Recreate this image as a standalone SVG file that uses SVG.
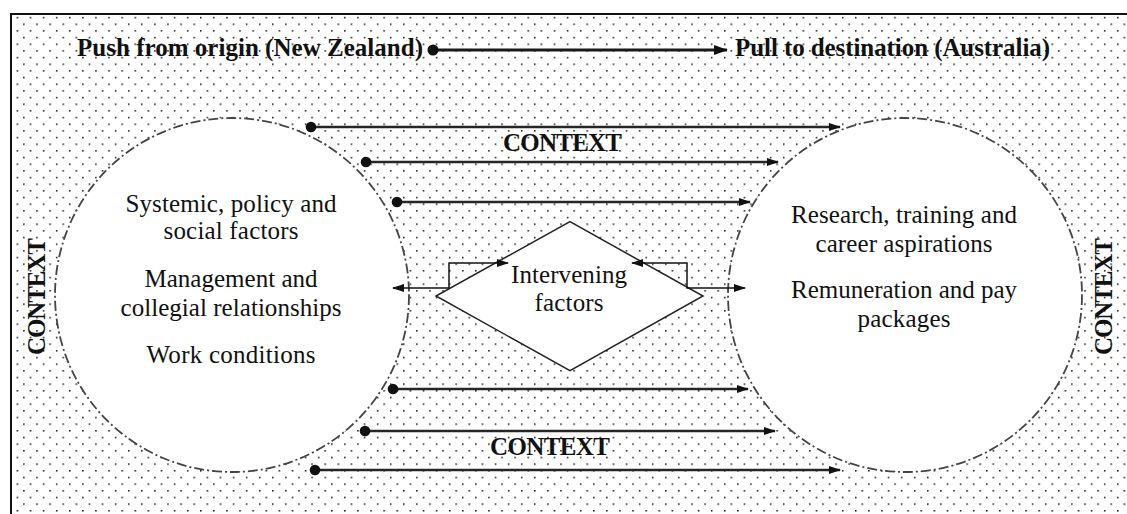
<svg xmlns="http://www.w3.org/2000/svg" width="1127" height="514" viewBox="0 0 1127 514">
<defs>
<pattern id="dots" patternUnits="userSpaceOnUse" x="3.5" y="3.5" width="13.1" height="13.33">
<rect x="0" y="0" width="1.5" height="1.5" fill="#111"/>
<rect x="6.55" y="6.67" width="1.5" height="1.5" fill="#111"/>
</pattern>
<marker id="ah" markerUnits="userSpaceOnUse" markerWidth="12" markerHeight="10" refX="11" refY="5" orient="auto-start-reverse"><path d="M0,1 L12,5 L0,9 Z" fill="#111"/></marker>
<marker id="ahb" markerUnits="userSpaceOnUse" markerWidth="14" markerHeight="12" refX="13" refY="6" orient="auto"><path d="M0,1 L14,6 L0,11 Z" fill="#111"/></marker>
<style>
.t { font-family: "Liberation Serif", "Times New Roman", serif; font-size: 25px; fill: #111; }
.b { font-weight: bold; }
.m { text-anchor: middle; }
.circ { fill: #fff; stroke: #444; stroke-width: 1.8; stroke-dasharray: 10 3 2 3; }
.dia { fill: #fff; stroke: #222; stroke-width: 1.5; }
.conn { fill: none; stroke: #262626; stroke-width: 2.6; marker-end: url(#ah); }
.thin { fill: none; stroke: #111; stroke-width: 1.5; marker-start: url(#ah); marker-end: url(#ah); }
.dot { fill: #111; }
</style>
</defs>
<rect x="0" y="0" width="1127" height="514" fill="#fff"/>
<rect x="11" y="14" width="1120" height="510" fill="url(#dots)"/>
<path d="M11,520 V14 H1130" fill="none" stroke="#111" stroke-width="2"/>

<g id="origin-circle">
<circle class="circ" cx="232" cy="295" r="177"/>
<text class="t m" x="231" y="212" textLength="211">Systemic, policy and</text>
<text class="t m" x="231" y="239" textLength="135">social factors</text>
<text class="t m" x="231" y="287" textLength="173">Management and</text>
<text class="t m" x="231" y="316" textLength="221">collegial relationships</text>
<text class="t m" x="231" y="363" textLength="169">Work conditions</text>
</g>

<g id="destination-circle">
<circle class="circ" cx="905" cy="295" r="177"/>
<text class="t m" x="904" y="223" textLength="226">Research, training and</text>
<text class="t m" x="904" y="252" textLength="177">career aspirations</text>
<text class="t m" x="904" y="298" textLength="226">Remuneration and pay</text>
<text class="t m" x="904" y="327" textLength="93">packages</text>
</g>

<g id="intervening">
<polygon class="dia" points="570,221.7 703,296 570,370.7 436,296"/>
<text class="t m" x="569" y="283" textLength="116">Intervening</text>
<text class="t m" x="569" y="310.5" textLength="69">factors</text>
</g>

<g id="title-push">
<text class="t b" x="77" y="56" textLength="346">Push from origin (New Zealand)</text>
</g>
<g id="title-pull">
<text class="t b" x="735" y="56" textLength="315">Pull to destination (Australia)</text>
</g>

<g id="context-top"><text class="t b" x="503" y="151" textLength="119">CONTEXT</text></g>
<g id="context-bottom"><text class="t b" x="490" y="455" textLength="120">CONTEXT</text></g>
<g id="context-left"><text class="t b m" transform="translate(45,296.5) rotate(-90)" x="0" y="0" textLength="117">CONTEXT</text></g>
<g id="context-right"><text class="t b m" transform="translate(1111.5,296.5) rotate(-90)" x="0" y="0" textLength="117">CONTEXT</text></g>

<g id="connectors">
<line x1="433" y1="50" x2="727" y2="50" fill="none" stroke="#1a1a1a" stroke-width="3.2" marker-end="url(#ahb)"/>
<circle class="dot" cx="433" cy="50" r="5.5"/>

<line class="conn" x1="311" y1="127" x2="840" y2="127"/>
<circle class="dot" cx="311" cy="127" r="5.3"/>
<line class="conn" x1="366" y1="162" x2="778" y2="162"/>
<circle class="dot" cx="366" cy="162" r="5.3"/>
<line class="conn" x1="397" y1="202" x2="750" y2="202"/>
<circle class="dot" cx="397" cy="202" r="5.3"/>

<line class="conn" x1="393" y1="389" x2="748" y2="389"/>
<circle class="dot" cx="393" cy="389" r="5.3"/>
<line class="conn" x1="365" y1="431" x2="775" y2="431"/>
<circle class="dot" cx="365" cy="431" r="5.3"/>
<line class="conn" x1="315" y1="470" x2="840" y2="470"/>
<circle class="dot" cx="315" cy="470" r="5.3"/>

<path class="thin" d="M393,288 H449 V263 H508"/>
<path class="thin" d="M632,263 H687 V288 H745"/>
</g>
</svg>
